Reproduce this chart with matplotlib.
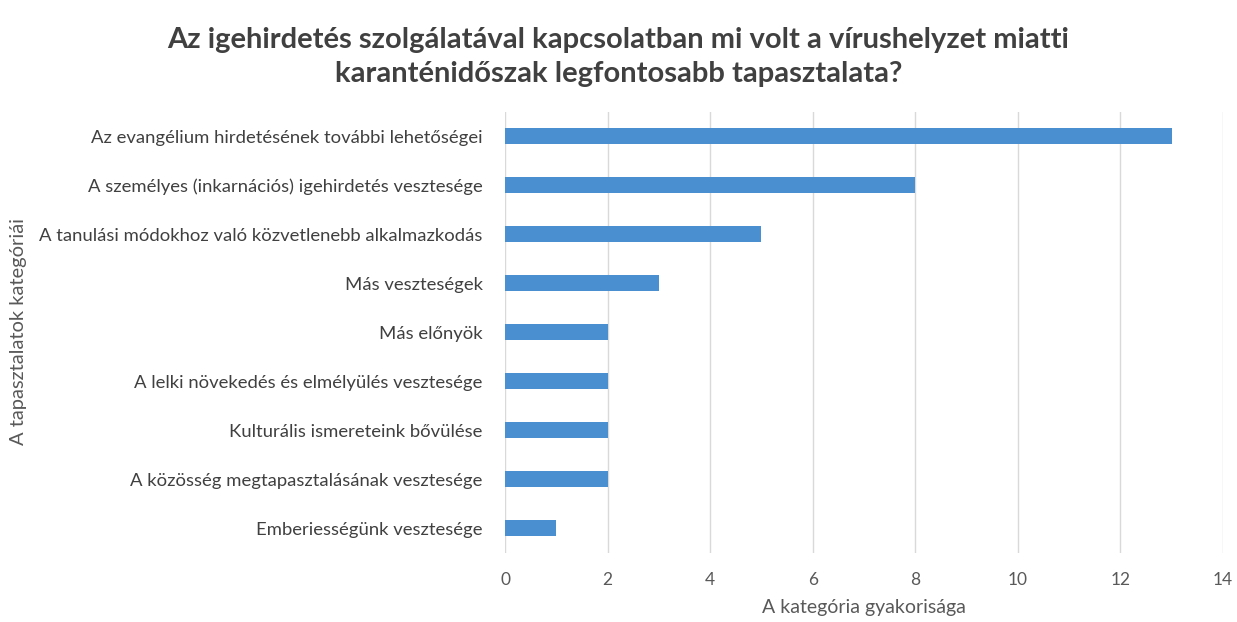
import numpy as np
import matplotlib.pyplot as plt

categories = [
    "Az evangélium hirdetésének további lehetőségei",
    "A személyes (inkarnációs) igehirdetés vesztesége",
    "A tanulási módokhoz való közvetlenebb alkalmazkodás",
    "Más veszteségek",
    "Más előnyök",
    "A lelki növekedés és elmélyülés vesztesége",
    "Kulturális ismereteink bővülése",
    "A közösség megtapasztalásának vesztesége",
    "Emberiességünk vesztesége",
]
values = [13, 8, 5, 3, 2, 2, 2, 2, 1]
xticks = [0, 2, 4, 6, 8, 10, 12, 14]

plt.rcParams['font.family'] = ['Lato', 'DejaVu Sans']

fig = plt.figure(figsize=(12.37, 6.22), dpi=100)
ax = fig.add_axes([0.4083, 0.1117, 0.5804, 0.709])

y = np.arange(len(categories))
ax.barh(y, values, height=0.33, color='#4a8fd0', zorder=3)
ax.set_ylim(len(categories) - 0.5, -0.5)
ax.set_xlim(0, 14)
ax.set_yticks(y)
ax.set_yticklabels(categories, fontsize=13.3, color='#404040')
ax.set_xticks(xticks)
ax.set_xticklabels([str(t) for t in xticks], fontsize=12.5, color='#595959')
ax.tick_params(axis='both', length=0)
ax.tick_params(axis='y', pad=16)
ax.tick_params(axis='x', pad=14)
ax.grid(axis='x', color='#d9d9d9', linewidth=1, zorder=0)
for s in ax.spines.values():
    s.set_visible(False)

ax.set_xlabel("A kategória gyakorisága", fontsize=14, color='#595959', labelpad=8)
fig.text(0.015, 0.467, "A tapasztalatok kategóriái", rotation=90, fontsize=14.5,
         color='#595959', ha='center', va='center')

fig.text(0.5, 0.908, "Az igehirdetés szolgálatával kapcsolatban mi volt a vírushelyzet miatti\nkaranténidőszak legfontosabb tapasztalata?",
         ha='center', va='center', fontsize=21, fontweight='bold', color='#404040',
         linespacing=1.38)

fig.savefig('out.png', dpi=100)
